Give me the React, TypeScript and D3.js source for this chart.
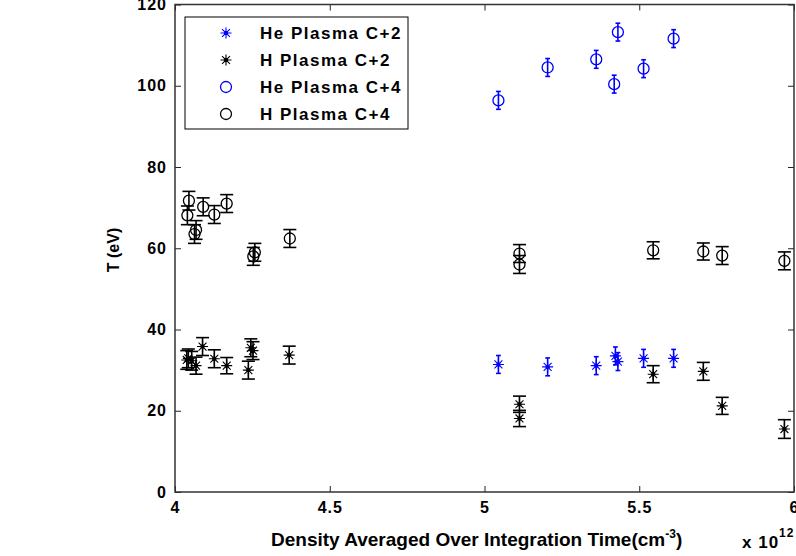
import React, { useEffect, useRef } from 'react';
import * as d3 from 'd3';

// He plasma, C+2 (blue stars)
const heC2X = [5.045, 5.204, 5.361, 5.423, 5.431, 5.514, 5.611];
const heC2Y = [31.4, 30.8, 31.1, 33.5, 32.1, 32.9, 32.9];
const heC2Err = [2.2, 2.2, 2.2, 2.2, 2.2, 2.2, 2.2];

// H plasma, C+2 (black stars)
const hC2X = [4.038, 4.043, 4.054, 4.068, 4.089, 4.127, 4.167, 4.237, 4.245, 4.252, 4.369, 5.113, 5.113, 5.545, 5.707, 5.768, 5.969];
const hC2Y = [32.5, 32.9, 32.3, 31.1, 35.8, 32.8, 31.1, 30.0, 35.5, 34.8, 33.7, 21.6, 18.1, 29.0, 29.7, 21.2, 15.5];
const hC2Err = [2.3, 2.3, 2.3, 2.1, 2.2, 2.2, 2.0, 2.2, 2.2, 2.2, 2.2, 2.0, 2.0, 2.1, 2.2, 2.1, 2.3];

// He plasma, C+4 (blue circles)
const heC4X = [5.045, 5.204, 5.361, 5.419, 5.431, 5.514, 5.611];
const heC4Y = [96.4, 104.5, 106.5, 100.4, 113.2, 104.2, 111.6];
const heC4Err = [2.2, 2.2, 2.2, 2.2, 2.2, 2.2, 2.2];

// H plasma, C+4 (black circles)
const hC4X = [4.040, 4.045, 4.063, 4.068, 4.091, 4.127, 4.167, 4.253, 4.258, 4.371, 5.113, 5.113, 5.545, 5.707, 5.768, 5.969];
const hC4Y = [68.1, 71.7, 63.5, 64.5, 70.2, 68.3, 71.0, 58.0, 59.0, 62.4, 58.7, 56.0, 59.5, 59.2, 58.2, 56.9];
const hC4Err = [2.3, 2.3, 2.3, 2.3, 2.2, 2.2, 2.2, 2.2, 2.2, 2.2, 2.2, 2.2, 2.1, 2.1, 2.2, 2.2];

const xTicks = [4, 4.5, 5, 5.5, 6];
const yTicks = [0, 20, 40, 60, 80, 100, 120];
const legendLabels = ['He Plasma C+2', 'H Plasma C+2', 'He Plasma C+4', 'H Plasma C+4'];

const FONT = "'Liberation Sans', Arial, Helvetica, sans-serif";
const NARROW = "'Liberation Sans Narrow', 'Arial Narrow', 'Liberation Sans', sans-serif";

const App = () => {
  const ref = useRef<SVGSVGElement>(null);

  useEffect(() => {
    const svg = d3.select(ref.current);
    svg.selectAll('*').remove();

    const left = 175, right = 794, top = 4.5, bottom = 492;
    const x = d3.scaleLinear().domain([4, 6]).range([left, right]);
    const y = d3.scaleLinear().domain([0, 120]).range([bottom, top]);

    svg.append('rect').attr('width', 796).attr('height', 556).attr('fill', '#fff');

    // axes (MATLAB box, ticks inside)
    const styleAxis = (g: any, showText: boolean) => {
      g.select('.domain').remove();
      g.selectAll('.tick line').attr('stroke', '#222').attr('stroke-width', 1);
      g.selectAll('text')
        .style('font-family', FONT)
        .style('font-weight', 'bold')
        .style('font-size', '16px')
        .attr('fill', '#000')
        .style('display', showText ? null : 'none');
    };

    svg.append('g')
      .attr('transform', `translate(0,${bottom})`)
      .call(d3.axisBottom(x).tickValues(xTicks).tickSize(-6).tickPadding(10).tickFormat(d3.format('')) as any)
      .call((g: any) => styleAxis(g, true))
      .call((g: any) => g.selectAll('text').attr('letter-spacing', '1px'));

    svg.append('g')
      .attr('transform', `translate(0,${top})`)
      .call(d3.axisTop(x).tickValues(xTicks).tickSize(-6) as any)
      .call((g: any) => styleAxis(g, false));

    svg.append('g')
      .attr('transform', `translate(${left},0)`)
      .call(d3.axisLeft(y).tickValues(yTicks).tickSize(-6).tickPadding(8) as any)
      .call((g: any) => styleAxis(g, true))
      .call((g: any) => g.selectAll('text').attr('letter-spacing', '1px'));

    svg.append('g')
      .attr('transform', `translate(${right},0)`)
      .call(d3.axisRight(y).tickValues(yTicks).tickSize(-6) as any)
      .call((g: any) => styleAxis(g, false));

    svg.append('rect')
      .attr('x', left).attr('y', top)
      .attr('width', right - left).attr('height', bottom - top)
      .attr('fill', 'none').attr('stroke', '#333').attr('stroke-width', 1.5);

    // markers
    const starPath = (r: number) => {
      const k = r * 0.72;
      return `M${-r},0L${r},0M0,${-r}L0,${r}M${-k},${-k}L${k},${k}M${-k},${k}L${k},${-k}`;
    };

    const drawSeries = (xs: number[], ys: number[], errs: number[], color: string, marker: string, cap: number) => {
      const pts = xs.map((v, i) => ({ x: v, y: ys[i], e: errs[i] }));
      const g = svg.append('g').attr('stroke', color).attr('fill', 'none');
      const eb = g.selectAll('.eb').data(pts).enter().append('g');
      eb.append('line')
        .attr('x1', d => x(d.x)).attr('x2', d => x(d.x))
        .attr('y1', d => y(d.y - d.e)).attr('y2', d => y(d.y + d.e))
        .attr('stroke-width', 1.6);
      eb.append('line')
        .attr('x1', d => x(d.x) - cap).attr('x2', d => x(d.x) + cap)
        .attr('y1', d => y(d.y - d.e)).attr('y2', d => y(d.y - d.e))
        .attr('stroke-width', 1.6);
      eb.append('line')
        .attr('x1', d => x(d.x) - cap).attr('x2', d => x(d.x) + cap)
        .attr('y1', d => y(d.y + d.e)).attr('y2', d => y(d.y + d.e))
        .attr('stroke-width', 1.6);
      if (marker === 'star') {
        g.selectAll('.m').data(pts).enter().append('path')
          .attr('transform', d => `translate(${x(d.x)},${y(d.y)})`)
          .attr('d', starPath(5.5))
          .attr('stroke-width', 1.1);
        g.selectAll('.c').data(pts).enter().append('circle')
          .attr('cx', d => x(d.x)).attr('cy', d => y(d.y)).attr('r', 2.2)
          .attr('fill', color).attr('stroke', 'none');
      } else {
        g.selectAll('.m').data(pts).enter().append('circle')
          .attr('cx', d => x(d.x)).attr('cy', d => y(d.y)).attr('r', 5.5)
          .attr('stroke-width', 1.3);
      }
    };

    drawSeries(heC2X, heC2Y, heC2Err, '#0000ff', 'star', 2.4);
    drawSeries(hC2X, hC2Y, hC2Err, '#000', 'star', 6.5);
    drawSeries(heC4X, heC4Y, heC4Err, '#0000ff', 'circle', 2.4);
    drawSeries(hC4X, hC4Y, hC4Err, '#000', 'circle', 6.5);

    // legend
    const legend = svg.append('g');
    legend.append('rect')
      .attr('x', 185).attr('y', 17).attr('width', 223).attr('height', 112)
      .attr('fill', '#fff').attr('stroke', '#000').attr('stroke-width', 1);
    const legendItems = [
      { color: '#0000ff', marker: 'star' },
      { color: '#000', marker: 'star' },
      { color: '#0000ff', marker: 'circle' },
      { color: '#000', marker: 'circle' },
    ];
    legendItems.forEach((d, i) => {
      const cy = 33 + i * 27;
      if (d.marker === 'star') {
        legend.append('path').attr('transform', `translate(226,${cy})`)
          .attr('d', starPath(5.5)).attr('stroke', d.color).attr('stroke-width', 1.1).attr('fill', 'none');
        legend.append('circle').attr('cx', 226).attr('cy', cy).attr('r', 2.2).attr('fill', d.color);
      } else {
        legend.append('circle').attr('cx', 226).attr('cy', cy).attr('r', 5.5)
          .attr('stroke', d.color).attr('stroke-width', 1.3).attr('fill', 'none');
      }
      legend.append('text')
        .attr('x', 260).attr('y', cy).attr('dy', '0.36em')
        .style('font-family', FONT).style('font-weight', 'bold').style('font-size', '17px')
        .attr('letter-spacing', '1.5px')
        .text(legendLabels[i]);
    });

    // axis labels
    svg.append('text')
      .attr('transform', 'translate(119,250) rotate(-90)')
      .attr('text-anchor', 'middle')
      .style('font-family', FONT).style('font-weight', 'bold').style('font-size', '16px')
      .text('T (eV)');

    const xl = svg.append('text')
      .attr('x', 271).attr('y', 546)
      .style('font-family', NARROW).style('font-weight', 'bold').style('font-size', '19px');
    xl.append('tspan').text('Density Averaged Over Integration Time(cm');
    xl.append('tspan').attr('dy', -8).style('font-size', '12px').text('-3');
    xl.append('tspan').attr('dy', 8).text(')');

    const ex = svg.append('text')
      .attr('x', 742).attr('y', 548)
      .style('font-family', FONT).style('font-weight', 'bold').style('font-size', '17px')
      .attr('letter-spacing', '1px');
    ex.append('tspan').text('x 10');
    ex.append('tspan').attr('dy', -11).style('font-size', '12px').text('12');
  }, []);

  return (
    <svg
      ref={ref}
      width={796}
      height={556}
      style={{ position: 'absolute', left: 0, top: 0, display: 'block' }}
    />
  );
};

export default App;
